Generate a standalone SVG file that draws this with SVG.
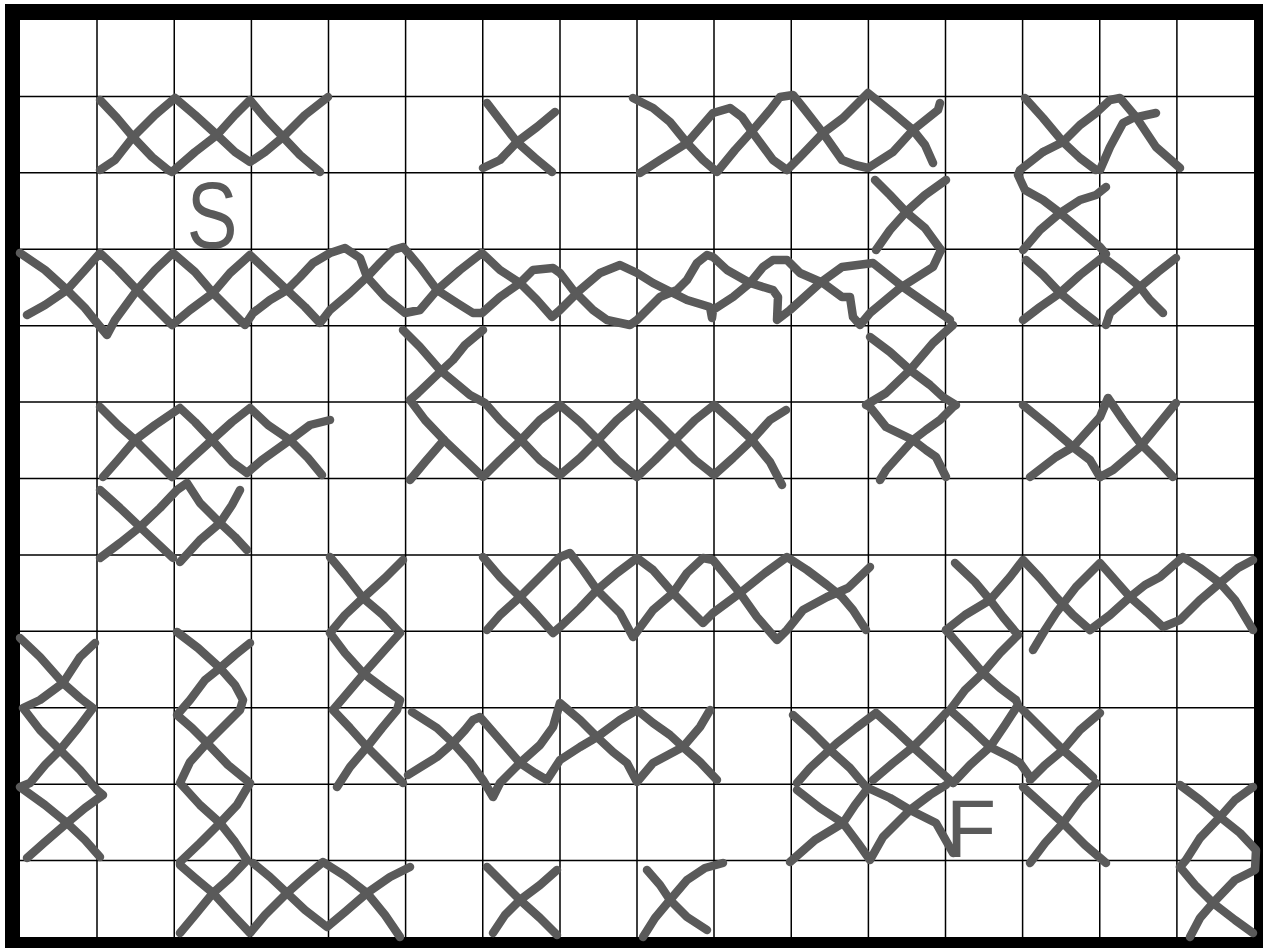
<svg xmlns="http://www.w3.org/2000/svg" width="1265" height="948" viewBox="0 0 1265 948">
<style>
.g{stroke:#000;stroke-width:1.5;fill:none}
.m{fill:none;stroke:#5a5a5a;stroke-width:8.5;stroke-linecap:round;stroke-linejoin:round}
.t{font-family:"Liberation Sans",Arial,sans-serif;fill:#5a5a5a}
</style>
<rect x="0" y="0" width="1265" height="948" fill="#fff"/>
<g id="frame">
<rect x="5" y="4" width="1258" height="944" fill="#000"/>
<rect x="20" y="20" width="1234" height="917" fill="#fff"/>
</g>
<g id="grid" class="g">
<path d="M97,20V937M174.25,20V937M251.4,20V937M328.5,20V937M405.6,20V937M482.75,20V937M560,20V937M637,20V937M714,20V937M791.25,20V937M868.4,20V937M945.5,20V937M1022.6,20V937M1099.75,20V937M1176.9,20V937"/>
<path d="M20,96.4H1254M20,172.8H1254M20,249.25H1254M20,325.7H1254M20,402.1H1254M20,478.5H1254M20,554.9H1254M20,631.3H1254M20,707.75H1254M20,784.2H1254M20,860.6H1254"/>
</g>
<g id="marks" class="m">
<!-- row 1 -->
<polyline points="100,170 115,160 133,137 155,115 175,98 195,115 217,135 235,152 250,162 265,152 283,137 305,115 328,97"/>
<polyline points="100,100 117,118 133,137 152,157 168,170 172,172 195,152 217,135 235,115 250,100 265,118 283,137 300,155 320,172"/>
<polyline points="487,103 500,120 517,142 535,158 552,172"/>
<polyline points="483,168 500,160 517,142 537,127 555,112"/>
<polyline points="633,98 653,108 670,122 687,143 703,160 717,172 735,150 753,130 770,110 780,97 793,95 805,110 823,133 842,160 855,165 868,168 893,152 913,130 938,110 940,103"/>
<polyline points="640,173 660,160 687,143 713,113 730,108 742,117 753,133 773,160 787,170 800,157 823,133 843,118 868,93 893,113 913,130 925,145 933,163"/>
<polyline points="1025,98 1043,118 1063,142 1080,158 1096,170"/>
<polyline points="1043,152 1063,142 1080,125 1096,113 1110,100 1120,98 1136,117 1156,147 1180,168"/>
<polyline points="1100,170 1110,147 1123,123 1133,118 1156,113"/>
<!-- row 2 -->
<polyline points="875,180 890,195 906,212 925,228 941,250"/>
<polyline points="876,250 890,230 906,212 925,195 946,180"/>
<polyline points="1043,152 1020,170 1018,175 1025,190 1043,200 1060,213 1080,230 1100,247 1106,254"/>
<polyline points="1023,250 1040,230 1060,213 1080,200 1096,195 1106,187"/>
<!-- row 3 -->
<polyline points="20,253 45,270 67,290 85,308 97,323 107,335 115,320 137,290 155,270 173,253 195,272 213,293 233,313 245,325 253,313 270,300 287,290 300,277 313,263 330,253 345,248 360,258 367,277 385,297 405,313 420,310 437,290 460,270 482,253 500,270 520,283 537,300 552,317 560,310 580,290 600,273 620,265 637,273 653,283 673,293 687,300 710,307 712,318 713,310 733,297 750,283 763,267 773,260 787,260 800,273 823,283 842,297 850,297 853,317 860,325 870,313 900,288 933,267 941,250"/>
<polyline points="27,315 45,305 67,290 85,270 100,253 118,270 137,290 155,308 172,325 190,310 213,293 230,273 250,255 268,272 287,290 305,307 320,323 330,310 350,293 367,277 380,263 393,250 403,247 410,255 420,267 437,290 457,303 473,313 482,313 500,297 520,283 533,270 553,268 560,273 573,290 593,310 607,320 630,325 637,320 660,297 677,290 687,280 697,263 707,255 713,257 727,270 750,283 773,290 778,297 777,320 790,310 820,283 842,267 873,263 903,287 946,317 950,320"/>
<polyline points="1026,260 1043,275 1060,293 1078,308 1096,322"/>
<polyline points="1023,320 1040,307 1060,293 1080,275 1103,257 1120,270 1140,287 1150,300 1163,313"/>
<polyline points="1106,325 1110,313 1125,300 1140,287 1158,272 1176,258"/>
<!-- row 4-5 -->
<polyline points="403,330 420,347 440,370 470,395 485,403 500,420 521,440 540,460 560,475 580,458 598,440 617,420 637,403 655,420 675,440 695,460 714,475 733,458 752,440 770,420 786,410"/>
<polyline points="483,330 465,345 453,360 440,372 418,393 410,400 425,420 444,440 463,458 483,477 500,460 521,440 540,420 560,405 580,422 598,440 617,460 637,477 655,460 675,440 695,420 714,405 733,422 752,440 770,462 782,485"/>
<polyline points="410,480 425,462 444,440"/>
<polyline points="870,337 890,352 910,370 930,385 943,397 956,405 953,407 940,420 926,430 913,440 886,470 880,480"/>
<polyline points="953,325 933,343 910,370 886,393 866,405 870,407 886,427 913,440 926,450 936,457 946,477"/>
<polyline points="100,407 118,425 135,440 155,460 172,477 190,460 212,440 232,422 250,408 268,425 290,440 308,458 322,475"/>
<polyline points="103,477 118,460 135,440 155,425 180,408 195,422 212,440 232,462 247,473 262,460 290,440 310,425 330,420"/>
<polyline points="1023,405 1050,427 1073,447 1090,460 1100,477"/>
<polyline points="1030,477 1056,457 1073,447 1100,417 1108,398 1123,420 1140,443 1160,463 1173,477"/>
<polyline points="1100,477 1113,470 1140,447 1176,403"/>
<!-- row 6 -->
<polyline points="100,490 120,508 140,527 157,543 173,558"/>
<polyline points="100,558 120,543 140,527 160,508 177,490 187,483 200,503 220,523 235,537 247,550"/>
<polyline points="180,562 200,540 220,523 232,505 240,490"/>
<!-- row 7 -->
<polyline points="330,557 345,575 363,598 383,615 400,633 383,652 367,670 350,690 333,710 350,728 367,747 385,765 403,783"/>
<polyline points="403,560 385,578 363,598 345,615 330,633 345,653 363,673 383,688 400,700 397,710 382,728 367,747 350,767 337,787"/>
<polyline points="483,557 500,577 520,597 537,615 553,633 560,627 580,608 597,590 617,573 637,558 653,570 673,593 687,607 703,623 713,613 740,593 765,573 787,557 807,570 827,585 842,597 853,610 866,630"/>
<polyline points="487,630 500,615 520,597 540,577 560,557 570,553 583,570 597,590 610,603 620,613 633,637 653,610 673,593 687,573 703,558 713,560 727,577 740,593 757,617 777,640 787,630 803,610 827,597 848,588 870,567"/>
<polyline points="955,563 975,582 990,600 1003,617 1018,635 1000,653 983,673 965,690 950,710 970,728 990,747 1010,757 1020,763 1030,777"/>
<polyline points="946,630 965,615 990,600 1010,577 1023,560 1040,578 1056,597 1073,615 1090,630 1110,615 1130,597 1145,585 1160,577 1183,557 1200,568 1220,583 1235,600 1253,630"/>
<polyline points="1033,650 1045,630 1056,613 1076,587 1100,563 1115,580 1130,597 1147,612 1163,627 1180,620 1200,600 1220,583 1238,568 1253,560"/>
<polyline points="946,630 965,652 983,673 1000,688 1016,700 1018,705 1005,725 990,747 970,765 953,783"/>
<!-- rows 8-10 left -->
<polyline points="20,638 40,657 63,683 80,698 93,708 78,728 60,750 45,765 30,783 20,787 45,805 67,823 85,840 100,857"/>
<polyline points="95,643 80,657 63,683 40,700 23,708 40,730 60,750 80,770 97,790 103,795 85,808 67,823 45,842 27,858"/>
<polyline points="177,632 198,648 220,668 235,685 243,700 240,710 225,725 207,743 190,762 180,783 200,805 220,823 235,842 247,860 230,878 213,893 195,915 180,933"/>
<polyline points="250,643 235,655 220,668 205,680 190,700 177,715 192,728 207,743 228,765 250,783 237,805 220,823 200,843 180,862 180,865 195,878 213,893 233,915 250,933 265,915 287,893 305,877 323,862 345,876 367,893 385,915 400,937"/>
<polyline points="253,863 270,877 287,893 305,910 327,927 345,912 367,893 390,877 410,867"/>
<!-- row 9 -->
<polyline points="412,712 437,728 453,743 470,762 483,780 493,797 500,783 520,763 540,745 553,727 560,703 580,720 597,737 613,752 627,763 637,782 653,763 683,747 700,727 710,710"/>
<polyline points="408,775 437,757 453,743 465,730 473,720 480,717 500,740 520,763 535,773 547,780 560,760 580,747 597,737 620,720 637,710 653,723 670,735 683,747 700,762 717,780"/>
<polyline points="793,715 812,732 830,750 850,768 866,787"/>
<polyline points="797,783 810,768 837,743 856,728 876,713 895,730 913,747 933,765 953,783"/>
<polyline points="873,780 893,763 913,747 930,730 946,713"/>
<polyline points="797,790 820,808 843,823 858,843 870,860 883,837 910,810 930,795 946,785"/>
<polyline points="790,862 815,840 843,823 855,805 868,788 890,798 910,810 936,823 953,853"/>
<polyline points="1023,710 1043,730 1063,750 1080,765 1093,777"/>
<polyline points="1030,780 1045,765 1063,750 1080,730 1100,713"/>
<polyline points="1023,787 1043,805 1063,823 1085,845 1106,863"/>
<polyline points="1030,863 1045,843 1063,823 1080,800 1096,783"/>
<polyline points="1180,785 1200,800 1220,817 1240,833 1256,850 1255,870 1235,880 1213,903 1200,918 1190,937"/>
<polyline points="1253,787 1235,800 1220,817 1200,838 1186,860 1180,867 1195,885 1213,903 1235,920 1253,933"/>
<!-- row 11 -->
<polyline points="487,867 503,883 520,900 540,918 557,935"/>
<polyline points="493,933 505,915 520,900 540,885 557,870"/>
<polyline points="647,870 660,885 670,900 687,917 707,930"/>
<polyline points="643,937 655,918 670,900 687,880 705,868 723,863"/>
</g>
<g id="labels">
<text class="t" transform="translate(212,248) scale(0.8,1)" font-size="95" text-anchor="middle">S</text>
<text class="t" x="946" y="857" font-size="82">F</text>
</g>
</svg>
